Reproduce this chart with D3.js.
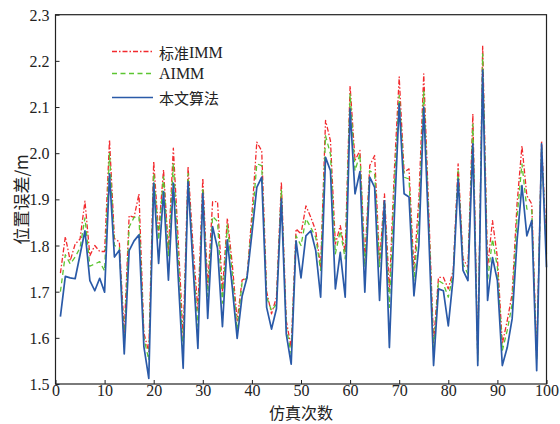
<!DOCTYPE html>
<html>
<head>
<meta charset="utf-8">
<script src="https://cdn.jsdelivr.net/npm/d3@7"></script>
<style>
  html, body { margin: 0; padding: 0; background: #fff; }
  svg { display: block; }
</style>
</head>
<body>
<svg id="chart" width="560" height="424"></svg>
<script>
// Simulation run index 1..100
const runs = d3.range(1, 101);

// Position error (m) per run for each filter
const stdIMM = [
  1.74, 1.819, 1.767, 1.803, 1.814, 1.896, 1.778, 1.80, 1.787, 1.787,
  2.029, 1.815, 1.808, 1.61, 1.865, 1.861, 1.912, 1.61, 1.57, 1.982,
  1.826, 1.964, 1.79, 2.011, 1.81, 1.60, 1.971, 1.80, 1.66, 1.946,
  1.71, 1.895, 1.895, 1.70, 1.859, 1.76, 1.637, 1.725, 1.73, 1.868,
  2.024, 2.005, 1.70, 1.652, 1.688, 1.937, 1.637, 1.579, 1.836, 1.825,
  1.886, 1.861, 1.832, 1.753, 2.071, 2.027, 1.803, 1.843, 1.785, 2.146,
  1.984, 2.006, 1.767, 1.973, 1.995, 1.764, 1.912, 1.702, 1.96, 2.165,
  1.959, 1.966, 1.746, 1.90, 2.172, 1.88, 1.59, 1.731, 1.731, 1.706,
  1.746, 1.977, 1.771, 1.753, 2.085, 1.56, 2.233, 1.753, 1.854, 1.774,
  1.587, 1.637, 1.695, 1.89, 2.016, 1.908, 1.89, 1.56, 2.027, 1.79
];
const aIMM = [
  1.70, 1.78, 1.76, 1.775, 1.795, 1.86, 1.755, 1.76, 1.765, 1.745,
  2.00, 1.80, 1.796, 1.587, 1.84, 1.861, 1.863, 1.60, 1.552, 1.956,
  1.812, 1.949, 1.776, 1.978, 1.78, 1.565, 1.956, 1.77, 1.624, 1.924,
  1.69, 1.863, 1.852, 1.675, 1.845, 1.74, 1.617, 1.72, 1.73, 1.847,
  1.977, 1.973, 1.688, 1.659, 1.673, 1.92, 1.623, 1.565, 1.821, 1.80,
  1.858, 1.839, 1.818, 1.746, 2.038, 1.998, 1.782, 1.832, 1.771, 2.128,
  1.962, 1.998, 1.753, 1.962, 1.955, 1.753, 1.897, 1.666, 1.93, 2.125,
  1.948, 1.944, 1.724, 1.86, 2.136, 1.86, 1.572, 1.724, 1.717, 1.688,
  1.738, 1.962, 1.76, 1.738, 2.063, 1.55, 2.215, 1.724, 1.814, 1.753,
  1.572, 1.616, 1.673, 1.861, 1.977, 1.879, 1.876, 1.55, 2.013, 1.78
];
const proposed = [
  1.646, 1.733, 1.730, 1.728, 1.78, 1.832, 1.724, 1.702, 1.729, 1.699,
  1.955, 1.775, 1.79, 1.565, 1.789, 1.81, 1.823, 1.581, 1.512, 1.935,
  1.761, 1.917, 1.725, 1.935, 1.73, 1.534, 1.938, 1.758, 1.577, 1.913,
  1.642, 1.841, 1.794, 1.624, 1.812, 1.71, 1.599, 1.69, 1.73, 1.825,
  1.926, 1.948, 1.666, 1.619, 1.663, 1.901, 1.608, 1.543, 1.81, 1.73,
  1.821, 1.832, 1.789, 1.688, 1.991, 1.962, 1.706, 1.785, 1.688, 2.096,
  1.912, 1.96, 1.699, 1.948, 1.926, 1.681, 1.897, 1.579, 1.86, 2.107,
  1.912, 1.905, 1.691, 1.80, 2.10, 1.83, 1.54, 1.706, 1.702, 1.626,
  1.731, 1.944, 1.746, 1.724, 2.02, 1.54, 2.18, 1.681, 1.774, 1.724,
  1.54, 1.579, 1.641, 1.81, 1.93, 1.821, 1.854, 1.529, 2.02, 1.753
];

const xTicks = [0, 10, 20, 30, 40, 50, 60, 70, 80, 90, 100];
const yTicks = [1.5, 1.6, 1.7, 1.8, 1.9, 2.0, 2.1, 2.2, 2.3];

const seriesNames = ["标准IMM", "AIMM", "本文算法"];
const series = [
  { name: seriesNames[0], values: stdIMM, color: "#f22a2e", dash: "5,2,1.5,2", width: 1.3 },
  { name: seriesNames[1], values: aIMM, color: "#5cc531", dash: "5,3.5", width: 1.3 },
  { name: seriesNames[2], values: proposed, color: "#2a5aa8", dash: null, width: 1.7 }
];

const svg = d3.select("#chart");
const margin = { left: 55.5, right: 13.5, top: 14.7, bottom: 40 };
const W = 560, H = 424;
const x = d3.scaleLinear().domain([0, 100]).range([margin.left, W - margin.right]);
const y = d3.scaleLinear().domain([1.5, 2.3]).range([H - margin.bottom, margin.top]);

const serif = "'Liberation Serif', 'Times New Roman', serif";
const cjk = "'Noto Sans CJK SC', sans-serif";

// Data lines
const line = d3.line().x((d, i) => x(runs[i])).y(d => y(d));
const plot = svg.append("g");
series.forEach(s => {
  plot.append("path")
    .datum(s.values)
    .attr("fill", "none")
    .attr("stroke", s.color)
    .attr("stroke-width", s.width)
    .attr("stroke-dasharray", s.dash)
    .attr("stroke-linejoin", "round")
    .attr("d", line);
});

// Frame
svg.append("rect")
  .attr("x", x(0)).attr("y", y(2.3))
  .attr("width", x(100) - x(0)).attr("height", y(1.5) - y(2.3))
  .attr("fill", "none").attr("stroke", "#222").attr("stroke-width", 1.2);

// Axes with inward ticks
const xAxis = svg.append("g")
  .attr("transform", `translate(0,${y(1.5)})`)
  .call(d3.axisBottom(x).tickValues(xTicks).tickSizeInner(-4).tickSizeOuter(0).tickPadding(2));
const yAxis = svg.append("g")
  .attr("transform", `translate(${x(0)},0)`)
  .call(d3.axisLeft(y).tickValues(yTicks).tickFormat(d3.format(".1f")).tickSizeInner(-4).tickSizeOuter(0).tickPadding(6));
[xAxis, yAxis].forEach(g => {
  g.select(".domain").remove();
  g.selectAll(".tick line").attr("stroke", "#222").attr("stroke-width", 1);
  g.selectAll(".tick text").attr("font-family", serif).attr("font-size", 16).attr("fill", "#222");
});
xAxis.selectAll(".tick text").attr("dy", "0.6em");
yAxis.selectAll(".tick text").attr("dy", "0.35em");

// Axis titles
svg.append("text")
  .attr("x", (x(0) + x(100)) / 2).attr("y", 419)
  .attr("text-anchor", "middle")
  .attr("font-family", cjk).attr("font-size", 16).attr("fill", "#222")
  .text("仿真次数");
svg.append("text")
  .attr("transform", `translate(20,${y(1.9)}) rotate(-90)`)
  .attr("text-anchor", "middle")
  .attr("dominant-baseline", "central")
  .attr("font-family", cjk).attr("font-size", 17).attr("fill", "#222")
  .text("位置误差/m");

// Legend
const legend = svg.append("g");
const legendY = [51.5, 73.5, 97.5];
series.forEach((s, i) => {
  legend.append("line")
    .attr("x1", 112).attr("x2", 153)
    .attr("y1", legendY[i]).attr("y2", legendY[i])
    .attr("stroke", s.color).attr("stroke-width", s.width)
    .attr("stroke-dasharray", s.dash);
  legend.append("text")
    .attr("x", 159).attr("y", legendY[i])
    .attr("dominant-baseline", "central")
    .attr("font-family", i === 1 ? serif : cjk)
    .attr("font-size", 15).attr("fill", "#222")
    .each(function () {
      const t = d3.select(this);
      if (i === 0) {
        t.append("tspan").attr("font-family", cjk).text("标准");
        t.append("tspan").attr("font-family", serif).attr("font-size", 16).text("IMM");
      } else if (i === 1) {
        t.attr("font-size", 16).text(s.name);
      } else {
        t.text(s.name);
      }
    });
});
</script>
</body>
</html>
